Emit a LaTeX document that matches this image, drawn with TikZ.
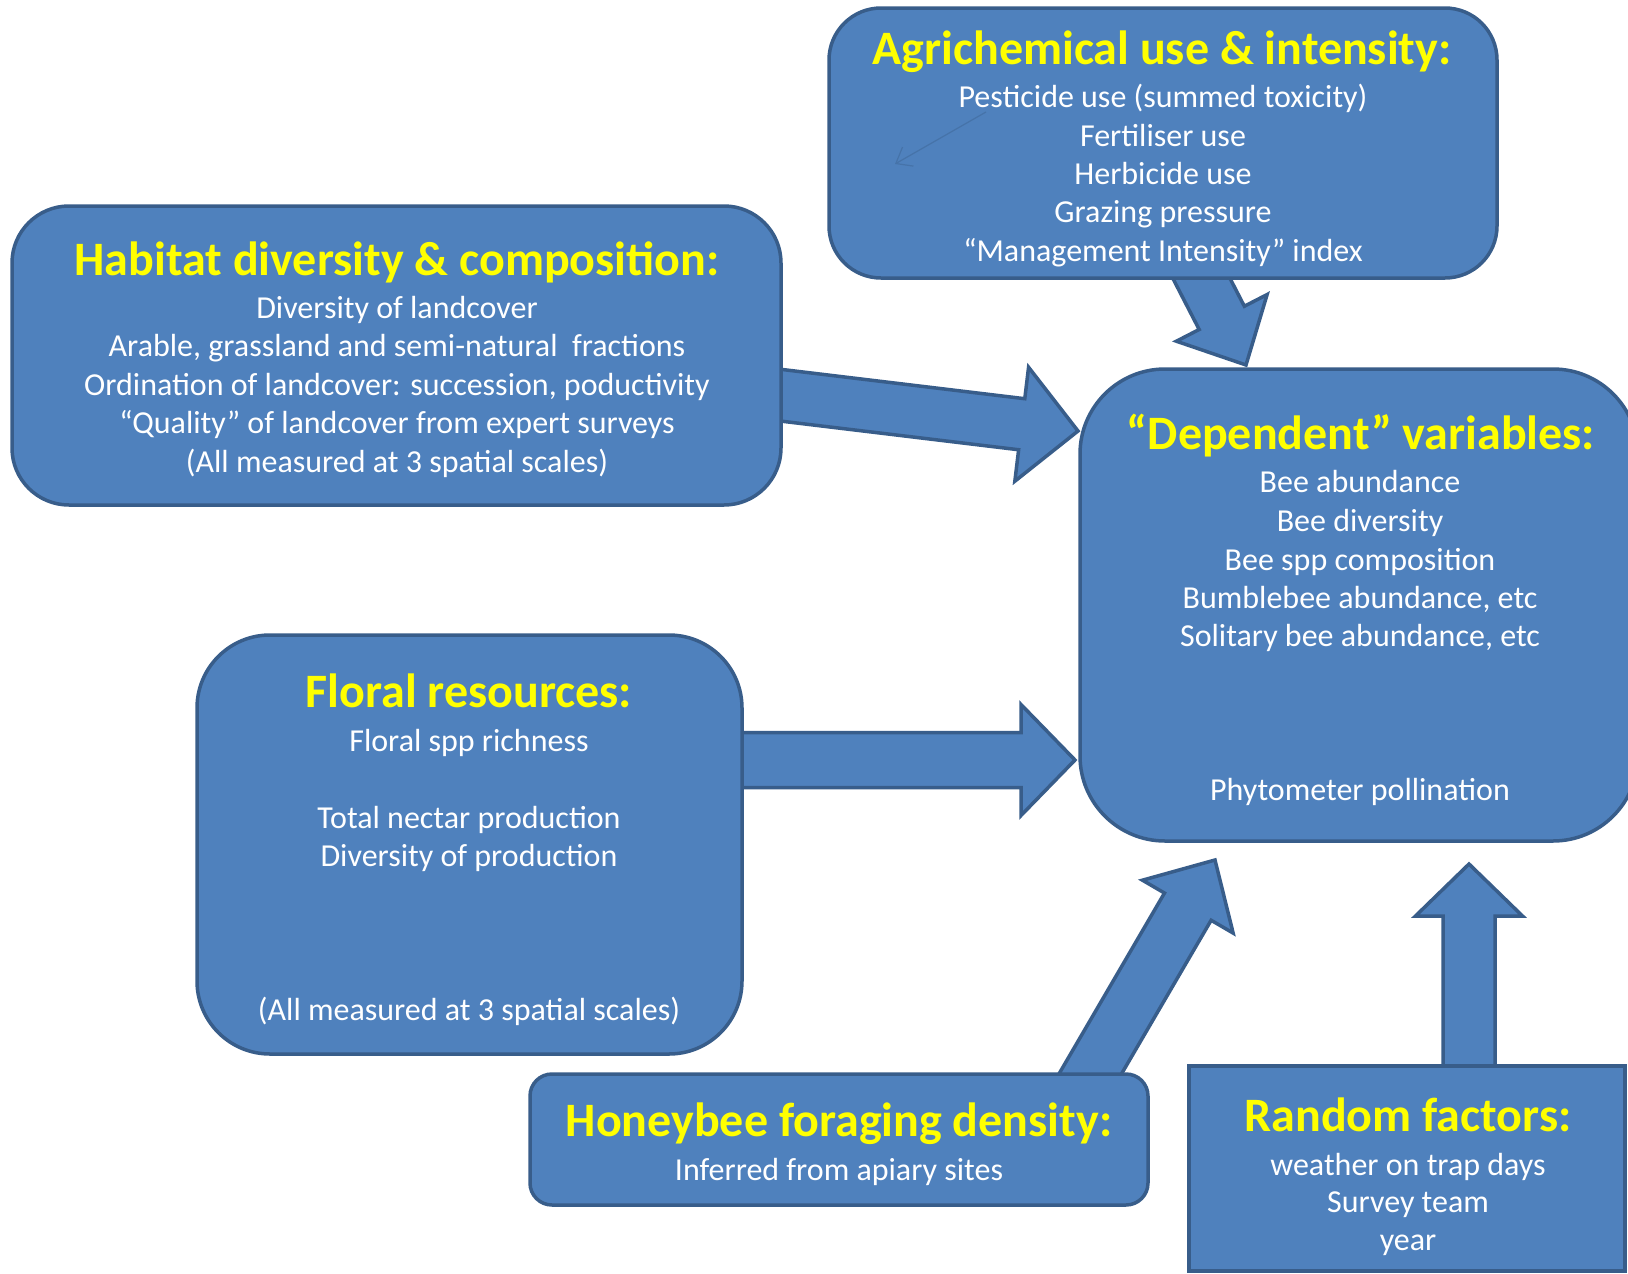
\documentclass[tikz,border=0pt]{standalone}
\usepackage{fontspec}
\setmainfont{Carlito}
\usetikzlibrary{calc,arrows.meta}
\definecolor{boxfill}{HTML}{4F81BD}
\definecolor{boxline}{HTML}{385D8A}
\definecolor{titleyellow}{HTML}{FFFF00}
\newcommand\blockarrow[6]{% #1 prefix, #2 start, #3 tip, #4 shaft hw, #5 head hw, #6 head length
  \coordinate (#1h) at ($(#3)!#6!(#2)$);
  \draw[arrowshape] ($(#2)!#4!90:(#3)$) -- ($(#1h)!#4!90:(#3)$) -- ($(#1h)!#5!90:(#3)$)
     -- (#3) -- ($(#1h)!#5!-90:(#3)$) -- ($(#1h)!#4!-90:(#3)$) -- ($(#2)!#4!-90:(#3)$) -- cycle;
}
\begin{document}
\begin{tikzpicture}[x=1pt,y=-1pt,
  box/.style={draw=boxline, fill=boxfill, line width=3.5pt, inner sep=0pt, outer sep=0pt},
  arrowshape/.style={draw=boxline, fill=boxfill, line width=3.5pt, line join=miter},
  tl/.style={font=\bfseries\fontsize{48}{56}\selectfont, text=titleyellow, text height=36pt, text depth=12pt, inner sep=0pt},
  bl/.style={font=\fontsize{32}{38}\selectfont, text=white, text height=24pt, text depth=8pt, inner sep=0pt},
  faint/.style={draw=boxline!40!boxfill, line width=1.2pt}]
\useasboundingbox (0,0) rectangle (1628,1274);
\clip (0,0) rectangle (1628,1274);
\fill[white] (0,0) rectangle (1628,1274);

% anchor coordinates for arrows
\coordinate (a1s) at (1193,262);  \coordinate (a1t) at (1246,365);
\coordinate (a2s) at (765,393.3); \coordinate (a2t) at (1078,431);
\coordinate (a3s) at (730,760);   \coordinate (a3t) at (1075,760);
\coordinate (a4s) at (1082,1088); \coordinate (a4t) at (1215,860);
\coordinate (a5s) at (1469,1085); \coordinate (a5t) at (1469,864);

\blockarrow{p1}{a1s}{a1t}{25.4pt}{51pt}{53pt}
\blockarrow{p2}{a2s}{a2t}{25.7pt}{57.4pt}{56.7pt}
\blockarrow{p3}{a3s}{a3t}{27.5pt}{55.5pt}{54pt}
\blockarrow{p4}{a4s}{a4t}{27pt}{52.5pt}{54pt}
\blockarrow{p5}{a5s}{a5t}{26pt}{53.5pt}{52pt}

% boxes
\node[box, rounded corners=52pt, minimum width=668pt, minimum height=270pt] (agri) at (1163,143) {};
\node[box, rounded corners=57pt, minimum width=769pt, minimum height=299pt] (habitat) at (396.5,355.5) {};
\node[box, rounded corners=85pt, minimum width=558pt, minimum height=472pt] (dep) at (1359,605) {};
\node[box, rounded corners=73pt, minimum width=545pt, minimum height=419pt] (floral) at (469.5,844.5) {};
\node[box, rounded corners=22pt, minimum width=618pt, minimum height=131pt] (honey) at (839,1139.5) {};
\node[box, minimum width=436pt, minimum height=205pt] (random) at (1407,1168.5) {};

% faint arrow inside agrichemical box
\coordinate (f1) at (986,112); \coordinate (f2) at (895,164);
\draw[faint, -{Straight Barb[length=14pt,width=22pt]}] (f1) -- (f2);

% texts: agrichemical
\node[tl] (agriT) at (1162,52) {Agrichemical use \& intensity:};
\node[bl] (agri1) at (1163,99.6) {Pesticide use (summed toxicity)};
\node[bl] (agri2) at (1163,138) {Fertiliser use};
\node[bl] (agri3) at (1163,176.4) {Herbicide use};
\node[bl] (agri4) at (1163,214.8) {Grazing pressure};
\node[bl] (agri5) at (1163,253.2) {“Management Intensity” index};

% habitat
\node[tl] (habT) at (397,263.6) {Habitat diversity \& composition:};
\node[bl] (hab1) at (397,310.3) {Diversity of landcover};
\node[bl] (hab2) at (397,348.8) {Arable, grassland and semi-natural\ \ fractions};
\node[bl] (hab3) at (397,387.2) {Ordination of landcover: succession, poductivity};
\node[bl] (hab4) at (397,425.6) {“Quality” of landcover from expert surveys};
\node[bl] (hab5) at (397,464) {(All measured at 3 spatial scales)};

% dependent
\node[tl] (depT) at (1361,437) {“Dependent” variables:};
\node[bl] (dep1) at (1360,484.8) {Bee abundance};
\node[bl] (dep2) at (1360,523.2) {Bee diversity};
\node[bl] (dep3) at (1360,562.6) {Bee spp composition};
\node[bl] (dep4) at (1360,600) {Bumblebee abundance, etc};
\node[bl] (dep5) at (1360,638.4) {Solitary bee abundance, etc};
\node[bl] (dep6) at (1360,792) {Phytometer pollination};

% floral
\node[tl] (flT) at (469,695.5) {Floral resources:};
\node[bl] (fl1) at (469,743.3) {Floral spp richness};
\node[bl] (fl2) at (469,820.1) {Total nectar production};
\node[bl] (fl3) at (469,858.6) {Diversity of production};
\node[bl] (fl4) at (469,1012.2) {(All measured at 3 spatial scales)};

% honeybee
\node[tl] (hbT) at (839,1124.4) {Honeybee foraging density:};
\node[bl] (hb1) at (839,1172.1) {Inferred from apiary sites};

% random
\node[tl] (rfT) at (1408,1119.2) {Random factors:};
\node[bl] (rf1) at (1408,1167) {weather on trap days};
\node[bl] (rf2) at (1408,1204.3) {Survey team};
\node[bl] (rf3) at (1408,1242.7) {year};
\end{tikzpicture}
\end{document}
